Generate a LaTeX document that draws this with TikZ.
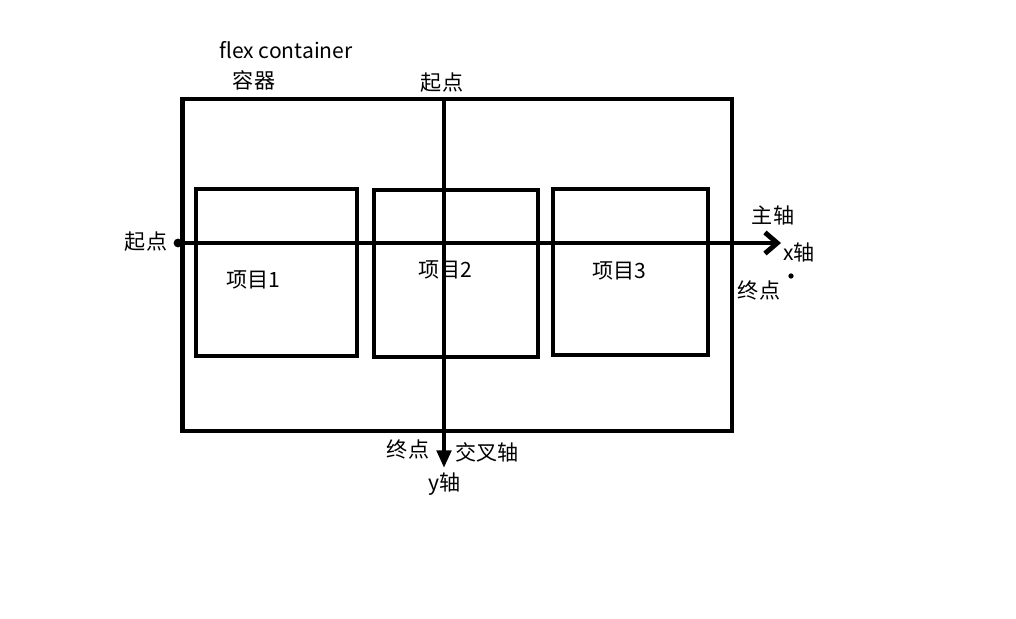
\documentclass[tikz,border=0pt]{standalone}
\usepackage{fontspec}
\setmainfont{Noto Sans CJK SC}
\usetikzlibrary{positioning, arrows.meta}

\begin{document}
\begin{tikzpicture}[x=0.02cm, y=-0.02cm,
    every node/.style={font=\fontsize{12}{14}\selectfont},
    box/.style={draw, line width=2.8pt, inner sep=0pt},
    axis/.style={line width=2.8pt}]
    \useasboundingbox (0,0) rectangle (1016,618);

    % Flex container
    \node[box, minimum width=11cm, minimum height=6.64cm] (cont) at (457,265) {};
    \node (flex) at (286,50) {flex container};
    \node (rq) at (254,80) {容器};

    % Items
    \node[box, minimum width=3.22cm, minimum height=3.34cm] (item1) at (276.5,272.5) {};
    \node[box, minimum width=3.28cm, minimum height=3.34cm] (item2) at (456,273.5) {};
    \node[box, minimum width=3.1cm, minimum height=3.32cm] (item3) at (630.5,272) {};
    \node (lab1) at (253,280) {项目1};
    \node (lab2) at (445,270) {项目2};
    \node (lab3) at (619,271) {项目3};

    % Main axis
    \coordinate (xs) at (178,243);
    \coordinate (xe) at (781,243);
    \fill (xs) circle (2.5pt);
    \draw[axis, -{Straight Barb[length=7pt, width=12pt, line width=2.8pt]}] (xs) -- (xe);
    \node (xstart) at (146,242) {起点};
    \node (xmain) at (773,215) {主轴};
    \node (xname) at (799,252) {x轴};
    \node (xend) at (759,290) {终点};
    \fill (791,276) circle (1.5pt);

    % Cross axis
    \coordinate (ys) at (444,99);
    \coordinate (ye) at (444,468);
    \draw[axis, -{Triangle[length=10pt, width=8pt]}] (ys) -- (ye);
    \node (ystart) at (442,83) {起点};
    \node (yend) at (408,449) {终点};
    \node (ycross) at (487,452) {交叉轴};
    \node (yname) at (445,484) {y轴};
\end{tikzpicture}
\end{document}
